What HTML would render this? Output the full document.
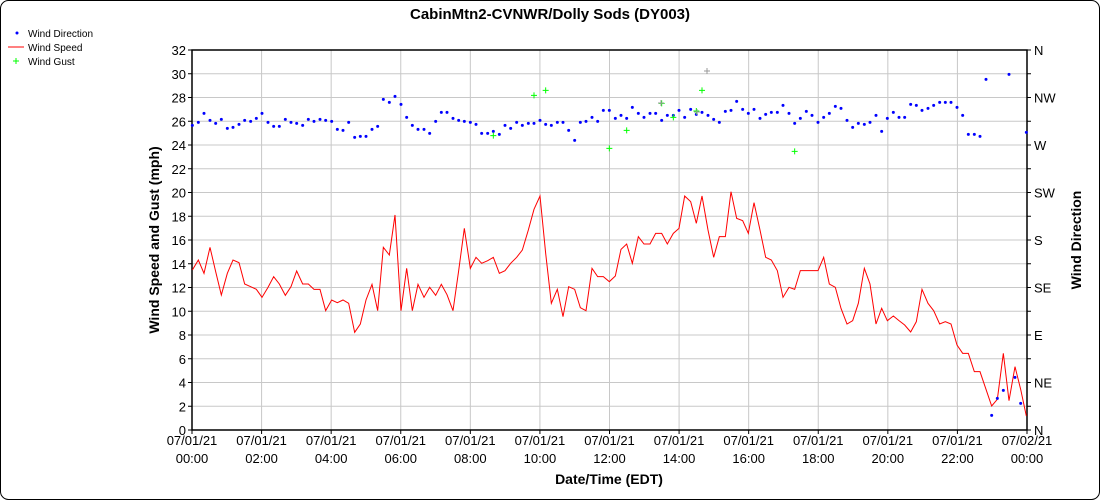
<!DOCTYPE html>
<html><head><meta charset="utf-8"><style>
body{margin:0;background:#fff}
svg{font-family:"Liberation Sans",sans-serif;display:block}
</style></head><body>
<svg id="s" width="1100" height="500" xmlns="http://www.w3.org/2000/svg">
<rect x="0.5" y="0.5" width="1099" height="499" rx="8" fill="#fff" stroke="#000"/>
<text x="550" y="19" text-anchor="middle" font-size="15" font-weight="bold">CabinMtn2-CVNWR/Dolly Sods (DY003)</text>
<g id="grid" stroke="#c8c8c8" stroke-width="1"></g>
<g id="lab" font-size="13" fill="#000"></g>
<rect x="192" y="50" width="835" height="380" fill="none" stroke="#000" stroke-width="1.5"/>
<g id="data"></g>
<text x="609" y="484" text-anchor="middle" font-size="14" font-weight="bold">Date/Time (EDT)</text>
<text transform="translate(159,240) rotate(-90)" text-anchor="middle" font-size="14" font-weight="bold">Wind Speed and Gust (mph)</text>
<text transform="translate(1081,240) rotate(-90)" text-anchor="middle" font-size="14" font-weight="bold">Wind Direction</text>
<g font-size="10">
<circle cx="17" cy="33" r="1.5" fill="#00f"/><text x="28" y="37">Wind Direction</text>
<line x1="8" y1="47" x2="24" y2="47" stroke="#f00"/><text x="28" y="51">Wind Speed</text>
<path d="M13 61h6M16 58v6" stroke="#0f0"/><text x="28" y="65">Wind Gust</text>
</g>
</svg>
<script>
const NS="http://www.w3.org/2000/svg";
function el(p,t,a,txt){const e=document.createElementNS(NS,t);for(const k in a)e.setAttribute(k,a[k]);if(txt!==undefined)e.textContent=txt;document.getElementById(p).appendChild(e);return e;}
const L=192,R=1027,T=50,B=430;
for(let i=0;i<=16;i++){const y=B-i*(B-T)/16;if(i>0&&i<16)el('grid','line',{x1:L,x2:R,y1:y,y2:y});
 el('lab','text',{x:186,y:y+5,'text-anchor':'end'},String(i*2));el('grid','line',{x1:L-4,x2:L,y1:y,y2:y,stroke:'#000'});el('grid','line',{x1:R,x2:R+4,y1:y,y2:y,stroke:'#000'});}
const dirs=["N","NE","E","SE","S","SW","W","NW","N"];
dirs.forEach((d,i)=>{const y=B-i*(B-T)/8;el('lab','text',{x:1034,y:y+5},d);});
for(let i=0;i<=12;i++){const x=L+i*(R-L)/12;if(i>0&&i<12)el('grid','line',{x1:x,x2:x,y1:T,y2:B});
 el('grid','line',{x1:x,x2:x,y1:B,y2:B+4,stroke:'#000'});
 el('lab','text',{x:x,y:445,'text-anchor':'middle'},i<12?"07/01/21":"07/02/21");
 el('lab','text',{x:x,y:463,'text-anchor':'middle'},(i<12?String(i*2).padStart(2,'0'):"00")+":00");}
const z1=(a)=>a.map(p=>[180+p[0]/3,40+p[1]/3]);
const z2=(a)=>a.map(p=>[600+p[0]/3,40+p[1]/3]);
const sp=z1([[37,690],[55,660],[72,700],[90,622],[107,695],[124,765],[142,700],[159,660],[177,668],[194,732],[212,740],[229,748],[246,772],[264,742],[281,710],[298,732],[316,766],[333,740],[350,693],[368,732],[385,732],[402,748],[420,748],[437,812],[455,780],[472,788],[489,780],[506,790],[524,877],[541,852],[558,780],[576,733],[593,812],[610,622],[628,645],[645,525],[663,812],[680,685],[697,812],[714,733],[732,772],[749,742],[767,766],[784,733],[801,764],[819,812],[836,692],[853,565],[871,685],[888,652],[905,670],[923,662],[940,652],[958,700],[975,692],[992,670],[1010,652],[1027,630],[1045,570],[1062,508],[1080,468],[1097,640],[1114,790],[1132,748],[1149,830],[1166,740],[1184,748],[1201,803],[1218,812],[1236,685],[1253,710],[1270,710],[1288,725]]).concat(z2([[46,708],[63,628],[80,612],[97,670],[115,590],[132,612],[150,612],[167,580],[185,580],[202,612],[220,580],[237,565],[254,468],[272,485],[289,550],[306,468],[324,570],[341,652],[358,590],[376,590],[393,455],[410,535],[428,542],[445,580],[462,488],[480,570],[497,652],[514,660],[532,692],[549,772],[567,742],[584,748],[601,692],[619,692],[636,692],[654,692],[671,652],[688,732],[706,742],[723,805],[741,852],[758,842],[775,790],[793,685],[810,732],[828,852],[845,805],[862,842],[880,828],[897,842],[914,855],[932,876],[949,845],[966,748],[984,790],[1001,812],[1019,852],[1036,845],[1053,852],[1071,915],[1088,940],[1105,940],[1123,995],[1140,995],[1158,1048],[1175,1098],[1192,1078],[1210,940],[1227,1082],[1245,980],[1262,1048],[1279,1128]]));
el('data','polyline',{points:sp.map(p=>p.join(',')).join(' '),fill:'none',stroke:'#f00','stroke-width':1});
const dr=z1([[37,256],[55,247],[72,220],[90,241],[107,250],[124,238],[142,265],[159,262],[177,253],[194,241],[212,244],[229,235],[246,220],[264,247],[281,259],[298,259],[316,238],[333,247],[350,250],[368,256],[385,238],[402,244],[420,238],[437,241],[455,244],[472,268],[489,271],[506,247],[524,292],[541,289],[558,289],[576,268],[593,259],[610,178],[628,187],[645,169],[663,193],[680,232],[697,256],[714,268],[732,268],[749,280],[767,244],[784,217],[801,217],[819,235],[836,241],[853,244],[871,247],[888,253],[905,280],[923,280],[940,274],[958,283],[975,256],[992,265],[1010,247],[1027,256],[1045,250],[1062,250],[1080,241],[1097,253],[1114,256],[1132,247],[1149,247],[1166,271],[1184,301],[1201,247],[1218,244],[1236,232],[1253,244],[1270,211],[1288,211]]).concat(z2([[46,235],[63,226],[80,235],[97,202],[115,220],[132,232],[150,220],[167,220],[185,241],[202,226],[220,226],[237,211],[254,232],[272,208],[289,223],[306,217],[324,226],[341,238],[358,247],[376,214],[393,211],[410,184],[428,208],[445,220],[462,208],[480,235],[497,223],[514,217],[532,217],[549,196],[567,220],[584,250],[601,235],[619,214],[636,226],[654,247],[671,232],[688,220],[706,199],[723,205],[741,241],[758,262],[775,250],[793,253],[810,247],[828,226],[845,274],[862,235],[880,217],[897,232],[914,232],[932,193],[949,196],[966,211],[984,205],[1001,196],[1019,187],[1036,187],[1053,187],[1071,202],[1088,226],[1105,283],[1123,283],[1140,289],[1158,118],[1175,1126],[1192,1075],[1210,1051],[1227,103],[1245,1012],[1262,1090],[1279,277]]));
dr.forEach(p=>el('data','circle',{cx:p[0],cy:p[1],r:1.5,fill:'#00f'}));
const gu=z1([[940,287],[1062,166],[1097,151],[1288,325]]).concat(z2([[80,271],[185,190],[220,232],[289,213],[306,151],[584,334]]));
gu.forEach(p=>el('data','path',{d:`M${p[0]-3} ${p[1]}h6M${p[0]} ${p[1]-3}v6`,stroke:'#0f0','stroke-width':1}));
[[661,103],[707,71],[697,112]].forEach(p=>el('data','path',{d:`M${p[0]-3} ${p[1]}h6M${p[0]} ${p[1]-3}v6`,stroke:'#999','stroke-width':1}));
</script>
</body></html>
